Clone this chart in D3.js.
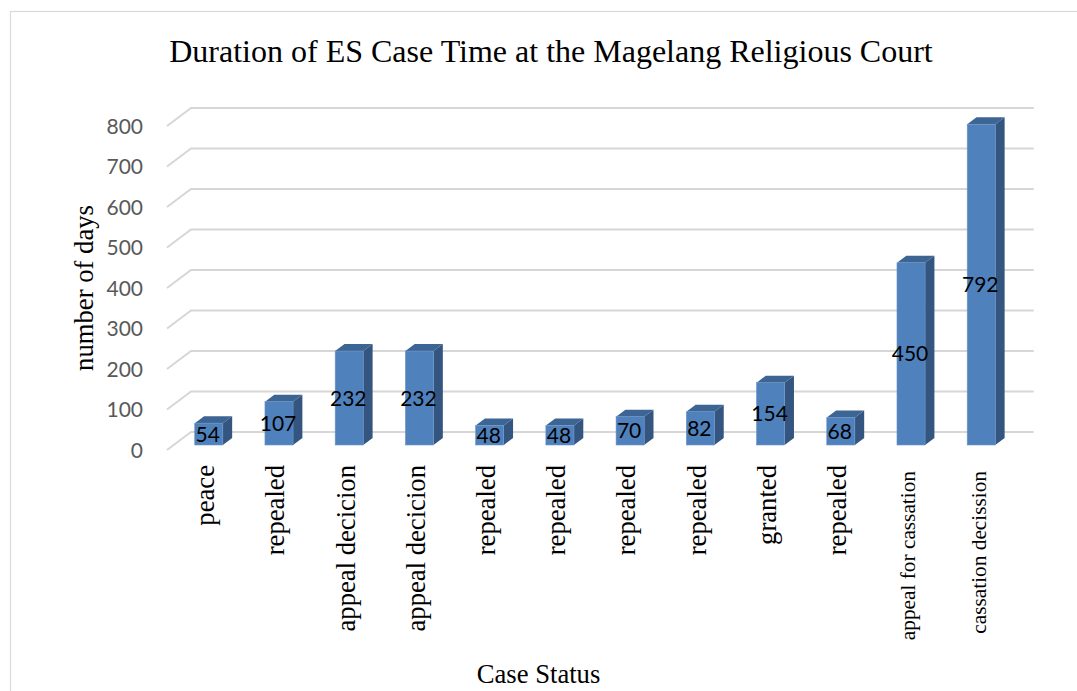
<!DOCTYPE html>
<html><head><meta charset="utf-8">
<script src="https://cdn.jsdelivr.net/npm/d3@7"></script>
<style>
html,body{margin:0;padding:0;background:#fff;}
svg{display:block;}
</style></head>
<body>
<svg id="chart" width="1077" height="691"></svg>
<script>
const categories = ["peace","repealed","appeal decicion","appeal decicion","repealed","repealed","repealed","repealed","granted","repealed","appeal for cassation","cassation decission"];
const values = [54,107,232,232,48,48,70,82,154,68,450,792];
const yTicks = [0,100,200,300,400,500,600,700,800];
const titleText = "Duration of ES Case Time at the Magelang Religious Court";
const yTitle = "number of days";
const xTitle = "Case Status";

const svg = d3.select("#chart");
const W = 1077, H = 691;
svg.append("rect").attr("x",10.5).attr("y",11.5).attr("width",W+20).attr("height",H+20)
  .attr("fill","#fff").attr("stroke","#d9d9d9").attr("stroke-width",1.2);

// 3D geometry
const x0 = 167, x1 = 1009.7;
const depthX = 24, depthY = -18;
const f0 = 5/18, f1 = 12/18;

const x = d3.scaleBand().domain(d3.range(categories.length)).range([x0,x1]).paddingInner(0.6).paddingOuter(0.3);
const y = d3.scaleLinear().domain([0,800]).range([450,126]);

// gridlines: left wall diagonal + back wall
const grid = svg.append("g");
yTicks.forEach(t => {
  const yf = y(t);
  grid.append("path")
    .attr("d", `M${x0},${yf} L${x0+depthX},${yf+depthY} L${x1+depthX},${yf+depthY}`)
    .attr("fill","none").attr("stroke","#d6d6d6").attr("stroke-width",2);
});

// y tick labels
const yAxis = d3.axisLeft(y).tickValues(yTicks).tickSize(0).tickPadding(0);
const ya = svg.append("g").attr("transform",`translate(143,0)`).call(yAxis);
ya.select(".domain").remove();
ya.selectAll("text").attr("font-family","Lato, 'Liberation Sans', sans-serif").attr("font-size",21)
  .attr("fill","#595959").attr("dy","0.35em");

// bars
const bx = i => x(i) + depthX*f0;
const by = v => y(v) + depthY*f0;
const sdx = depthX*(f1-f0), sdy = depthY*(f1-f0);
const bw = x.bandwidth();
const bars = svg.append("g");
values.forEach((v,i) => {
  const L = bx(i), R = L + bw, T = by(v), B = by(0);
  const g = bars.append("g");
  g.append("path").attr("d",`M${R},${B} L${R+sdx},${B+sdy} L${R+sdx},${T+sdy} L${R},${T} Z`).attr("fill","#34557f");
  g.append("path").attr("d",`M${L},${T} L${L+sdx},${T+sdy} L${R+sdx},${T+sdy} L${R},${T} Z`).attr("fill","#3c6594");
  g.append("rect").attr("x",L).attr("y",T).attr("width",bw).attr("height",B-T).attr("fill","#4f81bd")
    .attr("stroke","#6c95c8").attr("stroke-width",0.6);
  g.append("text").attr("x",L+bw/2-1).attr("y",(T+B)/2).attr("dy","0.36em")
    .attr("text-anchor","middle").attr("font-family","Lato, 'Liberation Sans', sans-serif")
    .attr("font-size",21).attr("fill","#000").text(v);
});

// category labels
categories.forEach((c,i) => {
  const small = c.length > 16;
  const cx = bx(i) + bw/2;
  const ty = small ? 471 : 465;
  svg.append("text")
    .attr("transform",`translate(${cx},${ty}) rotate(-90)`)
    .attr("text-anchor","end").attr("dy", "0.2em")
    .attr("font-family","'Liberation Serif', 'Times New Roman', serif")
    .attr("font-size", small ? 21.3 : 26.67).attr("fill","#000").text(c);
});

// titles
svg.append("text").attr("x",551).attr("y",62).attr("text-anchor","middle")
  .attr("font-family","'Liberation Serif', 'Times New Roman', serif").attr("font-size",32).attr("fill","#000").text(titleText);
svg.append("text").attr("transform","translate(93,288) rotate(-90)").attr("text-anchor","middle")
  .attr("font-family","'Liberation Serif', 'Times New Roman', serif").attr("font-size",26.67).attr("fill","#000").text(yTitle);
svg.append("text").attr("x",538.5).attr("y",683).attr("text-anchor","middle")
  .attr("font-family","'Liberation Serif', 'Times New Roman', serif").attr("font-size",26.67).attr("fill","#000").text(xTitle);
</script>
</body></html>
